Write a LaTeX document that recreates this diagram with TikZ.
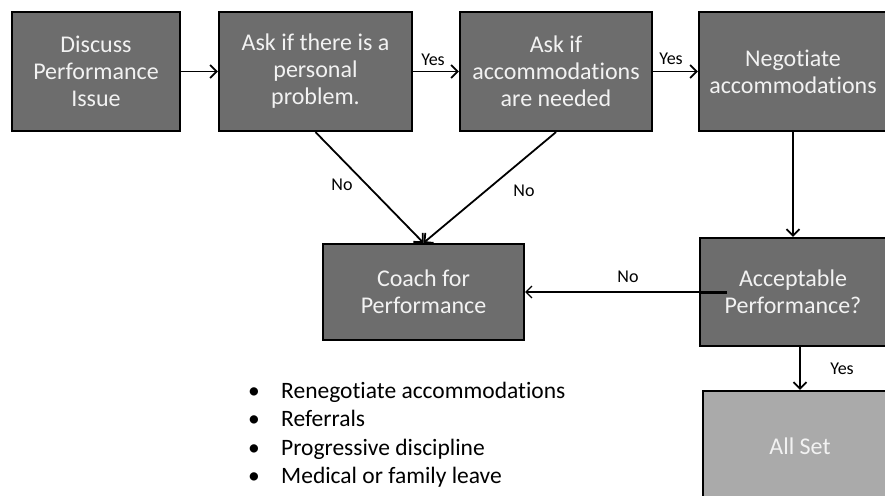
\documentclass[tikz,border=0pt]{standalone}
\usepackage{fontspec}
\setmainfont{Carlito}[Ligatures={NoCommon,NoContextual},RawFeature={-liga;-clig}]
\usetikzlibrary{arrows.meta,calc}
\definecolor{boxdark}{HTML}{6D6D6D}
\definecolor{boxlight}{HTML}{AAAAAA}
\definecolor{boxtext}{HTML}{F2F2F2}
\begin{document}
\begin{tikzpicture}[x=1pt,y=-1pt,
  procbox/.style={draw=black, line width=2.2pt, fill=boxdark, text=boxtext,
    font=\fontsize{24}{27}\selectfont, align=center, inner sep=0pt},
  flow/.style={line width=1.8pt, -{Straight Barb[length=6.5pt,width=13pt,line width=1.8pt]}},
  thinflow/.style={line width=1.2pt, -{Straight Barb[length=6pt,width=12pt,line width=1.2pt]}},
  lbl/.style={font=\fontsize{18}{20}\selectfont, inner sep=0pt},
  bul/.style={font=\fontsize{23.5}{28}\selectfont, inner sep=0pt}
]
\useasboundingbox (0,0) rectangle (885,495);

% boxes
\node[procbox, minimum width=168pt, minimum height=119pt] (d1) at (96,71.5) {Discuss\\Performance\\Issue};
\node[procbox, minimum width=193pt, minimum height=119pt] (d2) at (315.5,71.5) {Ask if there is a\\personal\\problem.};
\node[procbox, minimum width=192pt, minimum height=119pt] (d3) at (556,71.5) {Ask if\\accommodations\\are needed};
\node[procbox, minimum width=188pt, minimum height=119pt] (d4) at (793,71.5) {Negotiate\\accommodations};
\node[procbox, minimum width=201pt, minimum height=96pt] (coach) at (423.5,292) {Coach for\\Performance};
\node[procbox, minimum width=186pt, minimum height=108pt] (acc) at (793,292) {Acceptable\\Performance?};
\node[procbox, fill=boxlight, minimum width=194pt, minimum height=110pt] (all) at (800,446) {All Set};

% connectors
\draw[flow] (d1) -- (d2);
\draw[flow] (d2) -- (d3);
\draw[flow] (d3) -- (d4);
\draw[flow] (d2.south) -- (coach.north);
\draw[flow] (d3.south) -- (coach.north);
\draw[flow] (d4) -- (acc);
\coordinate (accin) at (727,292);
\draw[thinflow] (accin) -- (coach.east);
\draw[line width=3pt] (acc.west) -- (accin);
\draw[flow] (acc.south -| all.north) -- (all.north);

% labels
\node[lbl] (yes1) at (433,60) {Yes};
\node[lbl] (yes2) at (671,59) {Yes};
\node[lbl] (no1) at (342,185) {No};
\node[lbl] (no2) at (524,191) {No};
\node[lbl] (no3) at (628,277) {No};
\node[lbl] (yes3) at (842,369) {Yes};

% bullet list
\node[bul, anchor=base] (bd1) at (254,398) {\textbullet};
\node[bul, anchor=base west] (bt1) at (281,398) {Renegotiate accommodations};
\node[bul, anchor=base] (bd2) at (254,426.5) {\textbullet};
\node[bul, anchor=base west] (bt2) at (281,426.5) {Referrals};
\node[bul, anchor=base] (bd3) at (254,455) {\textbullet};
\node[bul, anchor=base west] (bt3) at (281,455) {Progressive discipline};
\node[bul, anchor=base] (bd4) at (254,483.5) {\textbullet};
\node[bul, anchor=base west] (bt4) at (281,483.5) {Medical or family leave};
\end{tikzpicture}
\end{document}
